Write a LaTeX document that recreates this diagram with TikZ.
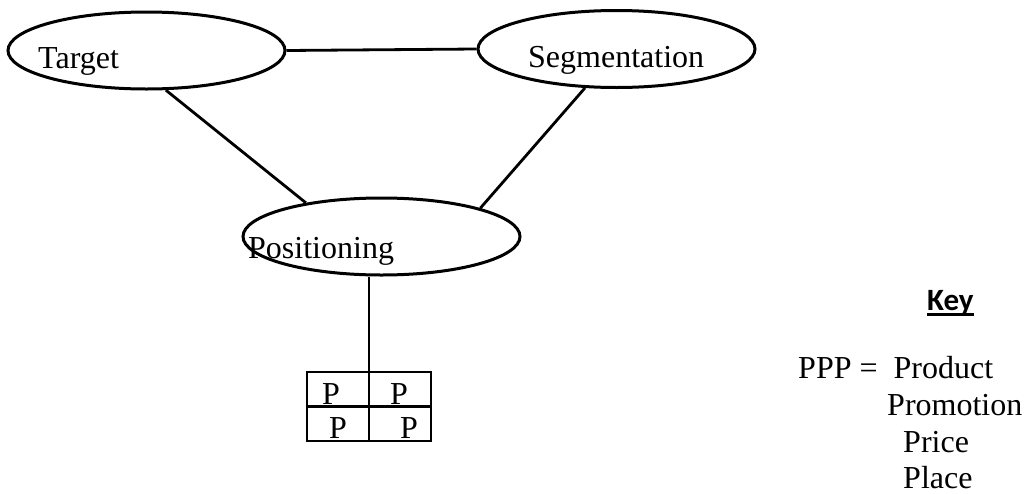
\documentclass[tikz,border=0pt]{standalone}
\usepackage{fontspec}
\setmainfont{Liberation Serif}
\newfontfamily\keyfont{Carlito}
\usetikzlibrary{shapes.geometric}

\tikzset{
  oval/.style={draw, ellipse, line width=3pt, minimum width=277pt, minimum height=77pt, inner sep=0pt},
  link/.style={line width=2.8pt},
  word/.style={anchor=base west, inner sep=0pt, font=\fontsize{32}{38}\selectfont},
  keyword/.style={anchor=base west, inner sep=0pt, font=\keyfont\bfseries\fontsize{31}{37}\selectfont},
  grid4/.style={draw, line width=2.8pt, minimum width=124pt, minimum height=69pt, inner sep=0pt}
}

\begin{document}
\begin{tikzpicture}[x=1pt, y=-1pt]
  \useasboundingbox (0,0) rectangle (1025,493);

  % the three ellipses
  \node[oval] (tgt) at (146.5,50.5) {};
  \node[oval] (seg) at (616.5,49) {};
  \node[oval] (pos) at (381.5,236.5) {};

  % their labels
  \node[word] (tgtlbl) at (38,68) {Target};
  \node[word] (seglbl) at (528,67) {Segmentation};
  \node[word] (poslbl) at (248,258) {Positioning};

  % connections between the ellipses
  \draw[link] (tgt.east) -- (seg.west);
  \draw[link] (tgt.-64) -- (pos.156);
  \draw[link] (seg.-129) -- (pos.16);

  % four-cell PPP box
  \node[grid4] (ppp) at (369,406.5) {};
  \draw[link] (ppp.north) -- (ppp.south);
  \draw[link] (ppp.west) -- (ppp.east);
  \draw[link] (ppp.north) -- (ppp.north |- pos.south);

  \node[word] (p1) at (322,404) {P};
  \node[word] (p2) at (390,404) {P};
  \node[word] (p3) at (329,438) {P};
  \node[word] (p4) at (400,438) {P};

  % key
  \node[keyword] (keyttl) at (927,310) {Key};
  \draw[line width=2.2pt] ([yshift=-4.5pt]keyttl.base west) -- ([yshift=-4.5pt]keyttl.base east);
  \node[word] (k1) at (798,378) {PPP =\hspace{16pt}Product};
  \node[word] (k2) at (887,415) {Promotion};
  \node[word] (k3) at (903,452) {Price};
  \node[word] (k4) at (903,488) {Place};
\end{tikzpicture}
\end{document}
